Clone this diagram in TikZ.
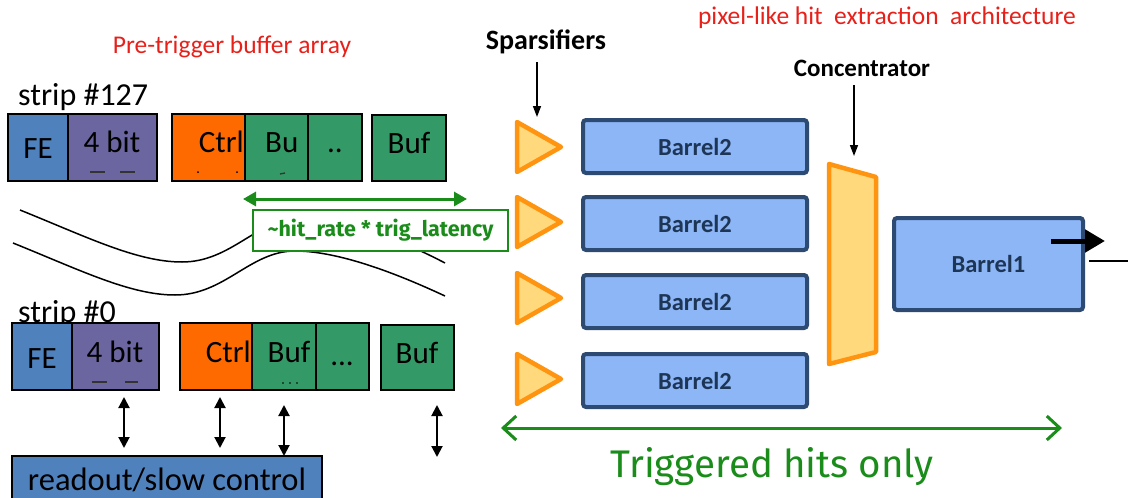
\documentclass[tikz,border=0pt]{standalone}
\usepackage{fontspec}
\setmainfont{Carlito}
\newfontfamily\comicfont{Fira Sans}
\usetikzlibrary{arrows.meta,fit,calc}
\definecolor{feblue}{HTML}{4F81BD}
\definecolor{bitpurple}{HTML}{6B65A0}
\definecolor{ctrlorange}{HTML}{FF6A00}
\definecolor{bufgreen}{HTML}{339966}
\definecolor{barfill}{HTML}{8DB6F7}
\definecolor{barline}{HTML}{2C4A72}
\definecolor{bartext}{HTML}{1E3656}
\definecolor{sparsline}{HTML}{FF9410}
\definecolor{sparsfill}{HTML}{FFD97C}
\definecolor{grn}{HTML}{1A8C1A}
\definecolor{titlered}{HTML}{E8201A}
\begin{document}
\begin{tikzpicture}[x=1pt,y=-1pt,
  cell/.style={draw=black, line width=1.3pt, inner sep=0pt},
  celltxt/.style={anchor=base, inner sep=0pt, font=\fontsize{31}{34}\selectfont},
  title/.style={anchor=base, inner sep=0pt, text=titlered, font=\fontsize{25.5}{28}\selectfont},
  striplbl/.style={anchor=base west, inner sep=0pt, font=\fontsize{32}{34}\selectfont},
  dbl/.style={line width=2pt, {Triangle[length=11pt,width=11pt]}-{Triangle[length=11pt,width=11pt]}},
  tickmark/.style={line width=1.3pt, draw=black!80},
  curve/.style={line width=1.5pt},
  barrel/.style={draw=barline, fill=barfill, line width=4pt, rounded corners=3pt, inner sep=0pt,
     text=bartext, font=\fontsize{24.5}{27}\selectfont\bfseries},
  spars/.style={draw=sparsline, fill=sparsfill, line width=4.5pt, line join=round},
  callout/.style={anchor=base, inner sep=0pt, font=\fontsize{28}{30}\selectfont\bfseries},
  pointer/.style={line width=1.5pt, -{Triangle[length=11pt,width=8pt]}},
  grnarrow/.style={draw=grn, line width=3pt},
]
\clip (0,0) rectangle (1128,498);
\fill[white] (0,0) rectangle (1128,498);

% titles
\node[title] (t1) at (232,53) {Pre-trigger buffer array};
\node[title] (t2) at (887,24) {pixel-like hit\ \ extraction\ \ architecture};

% strip #127
\node[striplbl] (s127) at (18,105) {strip \#127};
\node[cell, fill=feblue, fit={(8,114)(68,181)}] (fe1) {};
\node[cell, fill=bitpurple, fit={(68,114)(157,181)}] (bit1) {};
\node[cell, fill=ctrlorange, fit={(172,114)(245,181)}] (ctrl1) {};
\node[cell, fill=bufgreen, fit={(245,114)(308,181)}] (bu1) {};
\node[cell, fill=bufgreen, fit={(308,114)(362,181)}] (dd1) {};
\node[cell, fill=bufgreen, fit={(372,115)(446,181)}] (buf1) {};
\node[celltxt] at (38,158) {FE};
\node[celltxt] at (112,152) {4 bit};
\node[celltxt, anchor=base east] at (244,152) {Ctrl};
\node[celltxt, anchor=base west] at (265,152) {Bu};
\node[celltxt] at (335,152) {..};
\node[celltxt] at (409,153) {Buf};
\draw[tickmark] (90,172) -- (105,172) (120,172) -- (135,172);
\fill (198,172) circle (1pt) (237,172) circle (1pt);
\draw[tickmark] (280,174) -- (285,173);

% wavy lines
\draw[curve] (13,243) .. controls (80,270) and (130,295) .. (175,295)
  .. controls (225,295) and (250,251) .. (295,251)
  .. controls (340,251) and (400,275) .. (445,296);
\draw[curve] (20,210) .. controls (87,237) and (137,262) .. (182,262)
  .. controls (232,262) and (257,218) .. (302,218)
  .. controls (347,218) and (405,242) .. (445,263);

% latency arrow and box
\coordinate (la) at (243,199);
\coordinate (lb) at (467,199);
\draw[grnarrow, {Triangle[length=13pt,width=14pt]}-{Triangle[length=13pt,width=14pt]}] (la) -- (lb);
\node[draw=grn, line width=1.5pt, fill=white, minimum width=255pt, minimum height=41pt,
  inner sep=0pt, text=grn, font=\comicfont\fontsize{21.5}{24}\selectfont\bfseries] (lat) at (380.5,230.5)
  {\textasciitilde hit\_rate * trig\_latency};

% strip #0
\node[striplbl] (s0) at (18,322) {strip \#0};
\node[cell, fill=feblue, fit={(12,323)(72,390)}] (fe0) {};
\node[cell, fill=bitpurple, fit={(72,323)(159,390)}] (bit0) {};
\node[cell, fill=ctrlorange, fit={(180,323)(252,390)}] (ctrl0) {};
\node[cell, fill=bufgreen, fit={(252,323)(316,390)}] (bu0) {};
\node[cell, fill=bufgreen, fit={(316,323)(369,390)}] (dd0) {};
\node[cell, fill=bufgreen, fit={(381,325)(454,390)}] (buf0) {};
\node[celltxt] at (42,368) {FE};
\node[celltxt] at (115,362) {4 bit};
\node[celltxt, anchor=base east] at (251,362) {Ctrl};
\node[celltxt] at (289,362) {Buf};
\node[celltxt] at (342,365) {...};
\node[celltxt] at (417,363) {Buf};
\draw[tickmark] (92,382) -- (107,382) (125,382) -- (138,382);
\fill (283,383) circle (0.8pt) (290,383) circle (0.8pt) (297,383) circle (0.8pt);

% readout
\node[cell, fill=feblue, fit={(12,456)(322,520)}] (ro) {};
\node[celltxt, font=\fontsize{32.5}{36}\selectfont] at (167,490) {readout/slow control};
\coordinate (r1a) at (124,397); \coordinate (r1b) at (124,448);
\coordinate (r2a) at (220,397); \coordinate (r2b) at (220,448);
\coordinate (r3a) at (284,405); \coordinate (r3b) at (284,456);
\coordinate (r4a) at (437,405); \coordinate (r4b) at (437,457);
\draw[dbl] (r1a) -- (r1b);
\draw[dbl] (r2a) -- (r2b);
\draw[dbl] (r3a) -- (r3b);
\draw[dbl] (r4a) -- (r4b);

% sparsifiers
\node[callout] (sp) at (546,49) {Sparsifiers};
\coordinate (spt) at (537,117);
\draw[pointer] (537,62) -- (spt);
\foreach \yc in {147,222,298,379}{
  \draw[spars] (517,\yc-25) -- (561,\yc) -- (517,\yc+25) -- cycle;
}
\node[barrel, minimum width=224pt, minimum height=53pt] (b1) at (695,146.5) {Barrel2};
\node[barrel, minimum width=224pt, minimum height=53pt] (b2) at (695,223.5) {Barrel2};
\node[barrel, minimum width=224pt, minimum height=53pt] (b3) at (695,301.5) {Barrel2};
\node[barrel, minimum width=224pt, minimum height=53pt] (b4) at (695,380.5) {Barrel2};

% concentrator
\node[callout, font=\fontsize{25}{28}\selectfont\bfseries] (cc) at (862,76) {Concentrator};
\coordinate (cct) at (854,156);
\draw[pointer] (854,85) -- (cct);
\draw[spars] (829,164) -- (876,177) -- (876,352) -- (829,364) -- cycle;

% barrel1
\node[barrel, minimum width=189pt, minimum height=92pt] (bb) at (988.5,264) {Barrel1};
\coordinate (oa) at (1051,241);
\coordinate (ob) at (1105,241);
\draw[line width=5pt, -{Triangle[length=20pt,width=22pt]}] (oa) -- (ob);
\coordinate (la1) at (1089,261);
\coordinate (la2) at (1130,261);
\draw[line width=1.5pt] (la1) -- (la2);

% triggered hits
\coordinate (ga) at (501,428);
\coordinate (gb) at (1062,428);
\draw[grnarrow, {Straight Barb[length=13pt,width=24pt]}-{Straight Barb[length=13pt,width=24pt]}] (ga) -- (gb);
\node[anchor=base, inner sep=0pt, text=grn, font=\comicfont\fontsize{38.5}{42}\selectfont] (th) at (772,477) {Triggered hits only};
\end{tikzpicture}
\end{document}
